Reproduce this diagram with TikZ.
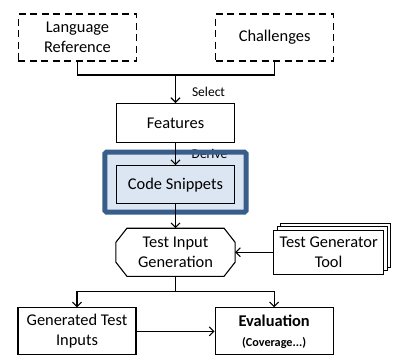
\documentclass[tikz,border=0pt]{standalone}
\usepackage{fontspec}
\setmainfont{Carlito}
\usetikzlibrary{positioning,arrows.meta,shadows,backgrounds}

\definecolor{frameblue}{HTML}{385D8A}
\definecolor{snipblue}{HTML}{DCE6F2}

\tikzset{
  box/.style={draw, line width=1.1bp, align=center, inner sep=0pt,
    minimum width=118bp, minimum height=47bp,
    font=\fontsize{16.4bp}{20bp}\selectfont},
  dashbox/.style={box, dash pattern=on 7bp off 4.5bp},
  snipbox/.style={box, fill=snipblue, minimum height=38bp},
  octbox/.style={box, draw=none},
  stackbox/.style={box, fill=white, minimum width=110bp, minimum height=44bp,
    double copy shadow={shadow xshift=3.5bp, shadow yshift=3.5bp}},
  framefill/.style={fill=snipblue, rounded corners=1.5bp, inner sep=0pt,
    minimum width=141bp, minimum height=60bp},
  frameline/.style={draw=frameblue, line width=5bp, rounded corners=1.5bp,
    inner sep=0pt, minimum width=141bp, minimum height=60bp},
  lbl/.style={font=\fontsize{13.5bp}{16bp}\selectfont, inner sep=0pt},
  line/.style={line width=1.1bp},
  flow/.style={line, -{Straight Barb[length=4.5bp,width=9bp]}},
}

\begin{document}
\begin{tikzpicture}[x=1bp, y=1bp]
  \useasboundingbox (0,0) rectangle (396,-361);

  % sources
  \node[dashbox] (lang) at (77.5,-37.5) {Language\\Reference};
  \node[dashbox, right=78bp of lang] (chal) {Challenges};
  \coordinate (sel) at (175.5,-75);

  \node[box, minimum height=39bp, below=28bp of sel] (feat) {Features};
  \node[snipbox, below=22bp of feat] (snip) {Code Snippets};
  \node[octbox, below=24bp of snip] (gen) {Test Input\\Generation};
  \node[stackbox, right=38bp of gen] (tool) {Test Generator\\Tool};

  % cut corners of the generation step
  \draw[line] ([xshift=11bp]gen.north west) -- ([xshift=-11bp]gen.north east)
    -- ([yshift=-14bp]gen.north east) -- ([yshift=14bp]gen.south east)
    -- ([xshift=-11bp]gen.south east) -- ([xshift=11bp]gen.south west)
    -- ([yshift=14bp]gen.south west) -- ([yshift=-14bp]gen.north west) -- cycle;

  \coordinate[below=15bp of gen] (split);
  \node[box, below=16bp of split, xshift=-98.5bp] (gti) {Generated Test\\Inputs};
  \node[box, right=78bp of gti] (eval) {\textbf{Evaluation}\\{\fontsize{12.2bp}{14bp}\selectfont\bfseries (Coverage...)}};

  % highlight round the snippets
  \begin{scope}[on background layer]
    \node[framefill] (frame) at ([yshift=2.5bp]snip.center) {};
    \path (feat) -- node[lbl, right=16bp] (derive) {Derive} (snip);
    \node[frameline] at (frame) {};
  \end{scope}

  \draw[line] (lang) |- (sel) -| (chal);
  \draw[flow] (sel) -- node[lbl, pos=0.6, right=16bp] (select) {Select} (feat);
  \draw[flow] (feat) -- (snip);
  \draw[flow] (snip) -- (gen);
  \draw[flow] (tool) -- (gen);
  \draw[line] (gen) -- (split);
  \draw[flow] (split) -| (gti);
  \draw[flow] (split) -| (eval);
  \draw[flow] (gti) -- (eval);
\end{tikzpicture}
\end{document}
